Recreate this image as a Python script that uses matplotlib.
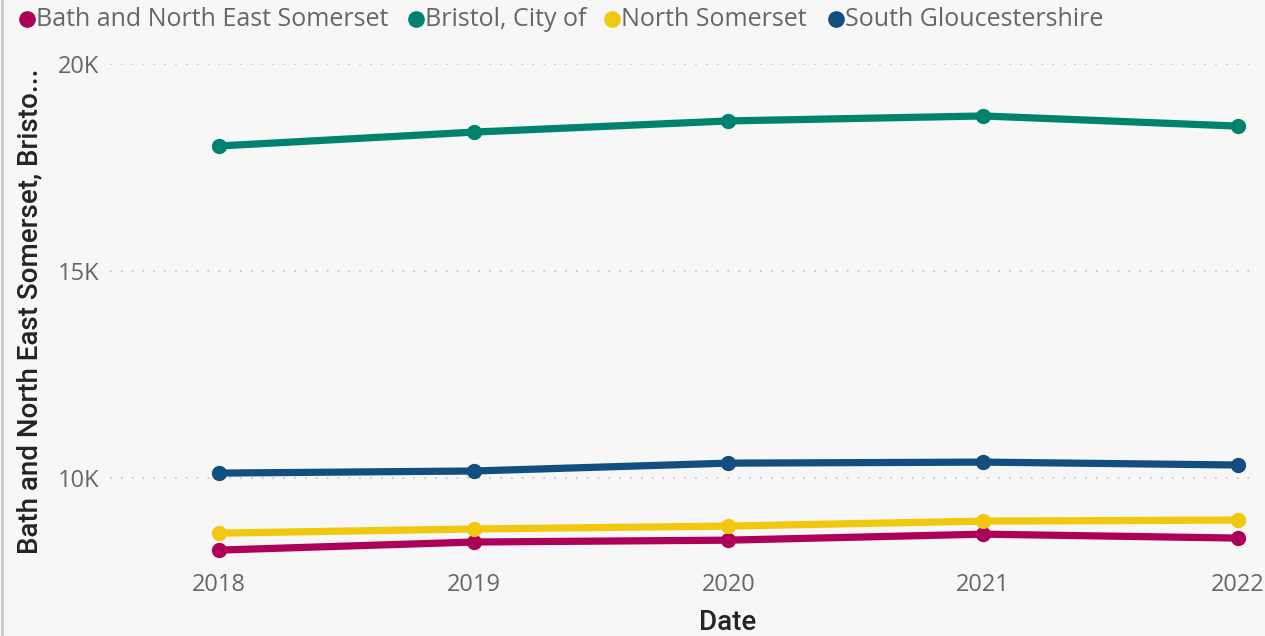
import matplotlib.pyplot as plt
from matplotlib.lines import Line2D
from matplotlib.ticker import FuncFormatter

# data
years = [2018, 2019, 2020, 2021, 2022]
bath = [8260, 8455, 8500, 8645, 8550]
bristol = [18020, 18355, 18625, 18745, 18500]
north_somerset = [8670, 8770, 8840, 8960, 8985]
south_glos = [10120, 10170, 10360, 10385, 10315]

series_names = ["Bath and North East Somerset", "Bristol, City of",
                "North Somerset", "South Gloucestershire"]
series_values = [bath, bristol, north_somerset, south_glos]
series_colors = ["#AD0059", "#00826F", "#F2C80F", "#124E80"]

BG = "#F7F7F7"
TICK = "#666666"
TITLE = "#252423"

fig = plt.figure(figsize=(12.65, 6.36), dpi=100, facecolor=BG)
ax = fig.add_axes([110 / 1265, 1 - 565 / 636, 1148 / 1265, (565 - 64) / 636])
ax.set_facecolor(BG)

for name, vals, col in zip(series_names, series_values, series_colors):
    ax.plot(years, vals, color=col, linewidth=5.2, marker="o", markersize=10,
            solid_capstyle="round", zorder=3)

ax.set_xlim(2017.572, 2022.079)
ax.set_ylim(7900, 20000)
ax.set_xticks(years)
ax.set_yticks([10000, 15000, 20000])
ax.yaxis.set_major_formatter(FuncFormatter(lambda v, p: f"{int(v / 1000)}K"))
ax.grid(axis="y", color="#C8C8C8", linestyle=(0, (1, 5)), linewidth=1.3)
ax.tick_params(length=0, labelsize=17, labelcolor=TICK)
ax.tick_params(axis="x", pad=6)
ax.tick_params(axis="y", pad=8)
for lab in ax.get_xticklabels() + ax.get_yticklabels():
    lab.set_fontfamily("Open Sans")
for sp in ax.spines.values():
    sp.set_visible(False)

ax.set_xlabel("Date", fontsize=20, color=TITLE, fontfamily="Roboto",
              fontweight="medium")
ax.set_ylabel("Bath and North East Somerset, Bristo...", fontsize=20, color=TITLE,
              fontfamily="Roboto", fontweight="medium")
ax.yaxis.set_label_coords(-80 / 1148, (565 - 311) / 501)
ax.xaxis.set_label_coords((728 - 110) / 1148, -(622 - 565) / 501)
ax.xaxis.label.set_va("center")
ax.yaxis.label.set_va("center")

# legend drawn by hand along the top
legend_x = [27, 416, 612, 836]
for x, name, col in zip(legend_x, series_names, series_colors):
    fig.add_artist(Line2D([x / 1265], [1 - 19 / 636], marker="o", markersize=11,
                          color=col, linestyle="none"))
    fig.text((x + 9) / 1265, 1 - 19 / 636, name, fontsize=18, color=TICK,
             fontfamily="Open Sans", va="center", ha="left")

# left border line
fig.add_artist(Line2D([2 / 1265, 2 / 1265], [0, 1], color="#C8C8C8", linewidth=2))

fig.savefig("out.png", dpi=100, facecolor=BG)
